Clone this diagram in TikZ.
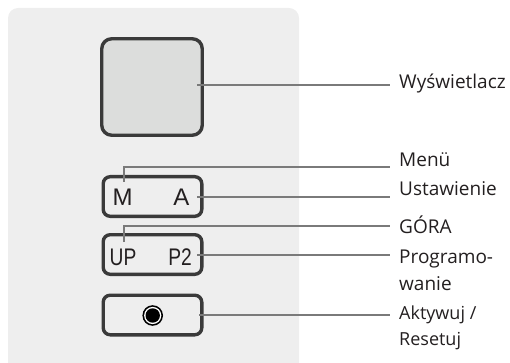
\documentclass[tikz,border=0pt]{standalone}
\usepackage{fontspec}
\setmainfont{Open Sans}
\newfontfamily\keyfont{Liberation Sans}
\definecolor{panelgray}{HTML}{EEEEEE}
\definecolor{screengray}{HTML}{DCDDDC}
\definecolor{frame}{HTML}{3A3A3A}
\definecolor{leader}{HTML}{7A7A7A}
\definecolor{ink}{HTML}{231F20}
\begin{document}
\begin{tikzpicture}[x=1pt,y=-1pt,
  keybox/.style={draw=frame, line width=3.4pt, rounded corners=7pt, inner sep=0pt,
    minimum width=98.6pt, minimum height=39.6pt},
  screenbox/.style={keybox, fill=screengray, rounded corners=10pt, minimum height=96.5pt, minimum width=100.5pt},
  leaderline/.style={draw=leader, line width=1.3pt},
  lbl/.style={anchor=base west, inner sep=0pt, text=ink, font=\fontsize{19}{27}\selectfont},
  smalllbl/.style={lbl, font=\fontsize{18}{26}\selectfont},
  keytxt/.style={anchor=base, inner sep=0pt, text=ink, font=\keyfont\fontsize{24}{24}\selectfont},
  narrowtxt/.style={keytxt, xscale=0.8}]
\useasboundingbox (0,0) rectangle (510,363);
\clip (0,0) rectangle (510,363);

% device panel
\fill[panelgray, rounded corners=10pt] (8,8) rectangle (299,380);

% display and keys
\node[screenbox] (screen) at (152,87) {};
\node[keybox] (keyMA) at (152.5,196.5) {};
\node[keybox] (keyUP) at (152.5,254.5) {};
\node[keybox] (keyRst) at (152.5,315) {};

% key legends
\node[keytxt] (tM) at (122.5,205.5) {M};
\node[keytxt] (tA) at (181.5,205.5) {A};
\node[narrowtxt] (tUP) at (123,265) {UP};
\node[narrowtxt] (tP2) at (180,265) {P2};

% reset button
\fill[black] (152.7,315.5) circle[radius=10.3pt];
\fill[white] (152.7,315.5) circle[radius=8.6pt];
\fill[black] (152.7,315.5) circle[radius=7.2pt];

% labels
\node[lbl] (lScreen) at (399,89) {Wyświetlacz};
\node[lbl] (lMenu) at (399,167) {Menü};
\node[lbl] (lSet) at (399,195) {Ustawienie};
\node[lbl] (lUp) at (399,233) {GÓRA};
\node[lbl] (lProgA) at (399,263) {Programo-};
\node[lbl] (lProgB) at (399,290) {wanie};
\node[smalllbl] (lRstA) at (399,319) {Aktywuj /};
\node[smalllbl] (lRstB) at (399,345) {Resetuj};

% leader start points
\coordinate (pScreen) at (197,85);
\coordinate (pM) at (124,182);
\coordinate (pA) at (197,197);
\coordinate (pUP) at (124,242);
\coordinate (pP2) at (197,255);
\coordinate (pRst) at (199,315);

% leader bends and ends
\coordinate (eScreen) at (390,85);
\coordinate (bM) at (124,167);
\coordinate (eM) at (390,167);
\coordinate (eA) at (390,197);
\coordinate (bUP) at (124,226);
\coordinate (eUP) at (390,226);
\coordinate (eP2) at (390,255);
\coordinate (eRst) at (390,315);

\draw[leaderline] (pScreen) -- (eScreen);
\draw[leaderline] (pM) -- (bM) -- (eM);
\draw[leaderline] (pA) -- (eA);
\draw[leaderline] (pUP) -- (bUP) -- (eUP);
\draw[leaderline] (pP2) -- (eP2);
\draw[leaderline] (pRst) -- (eRst);
\end{tikzpicture}
\end{document}
